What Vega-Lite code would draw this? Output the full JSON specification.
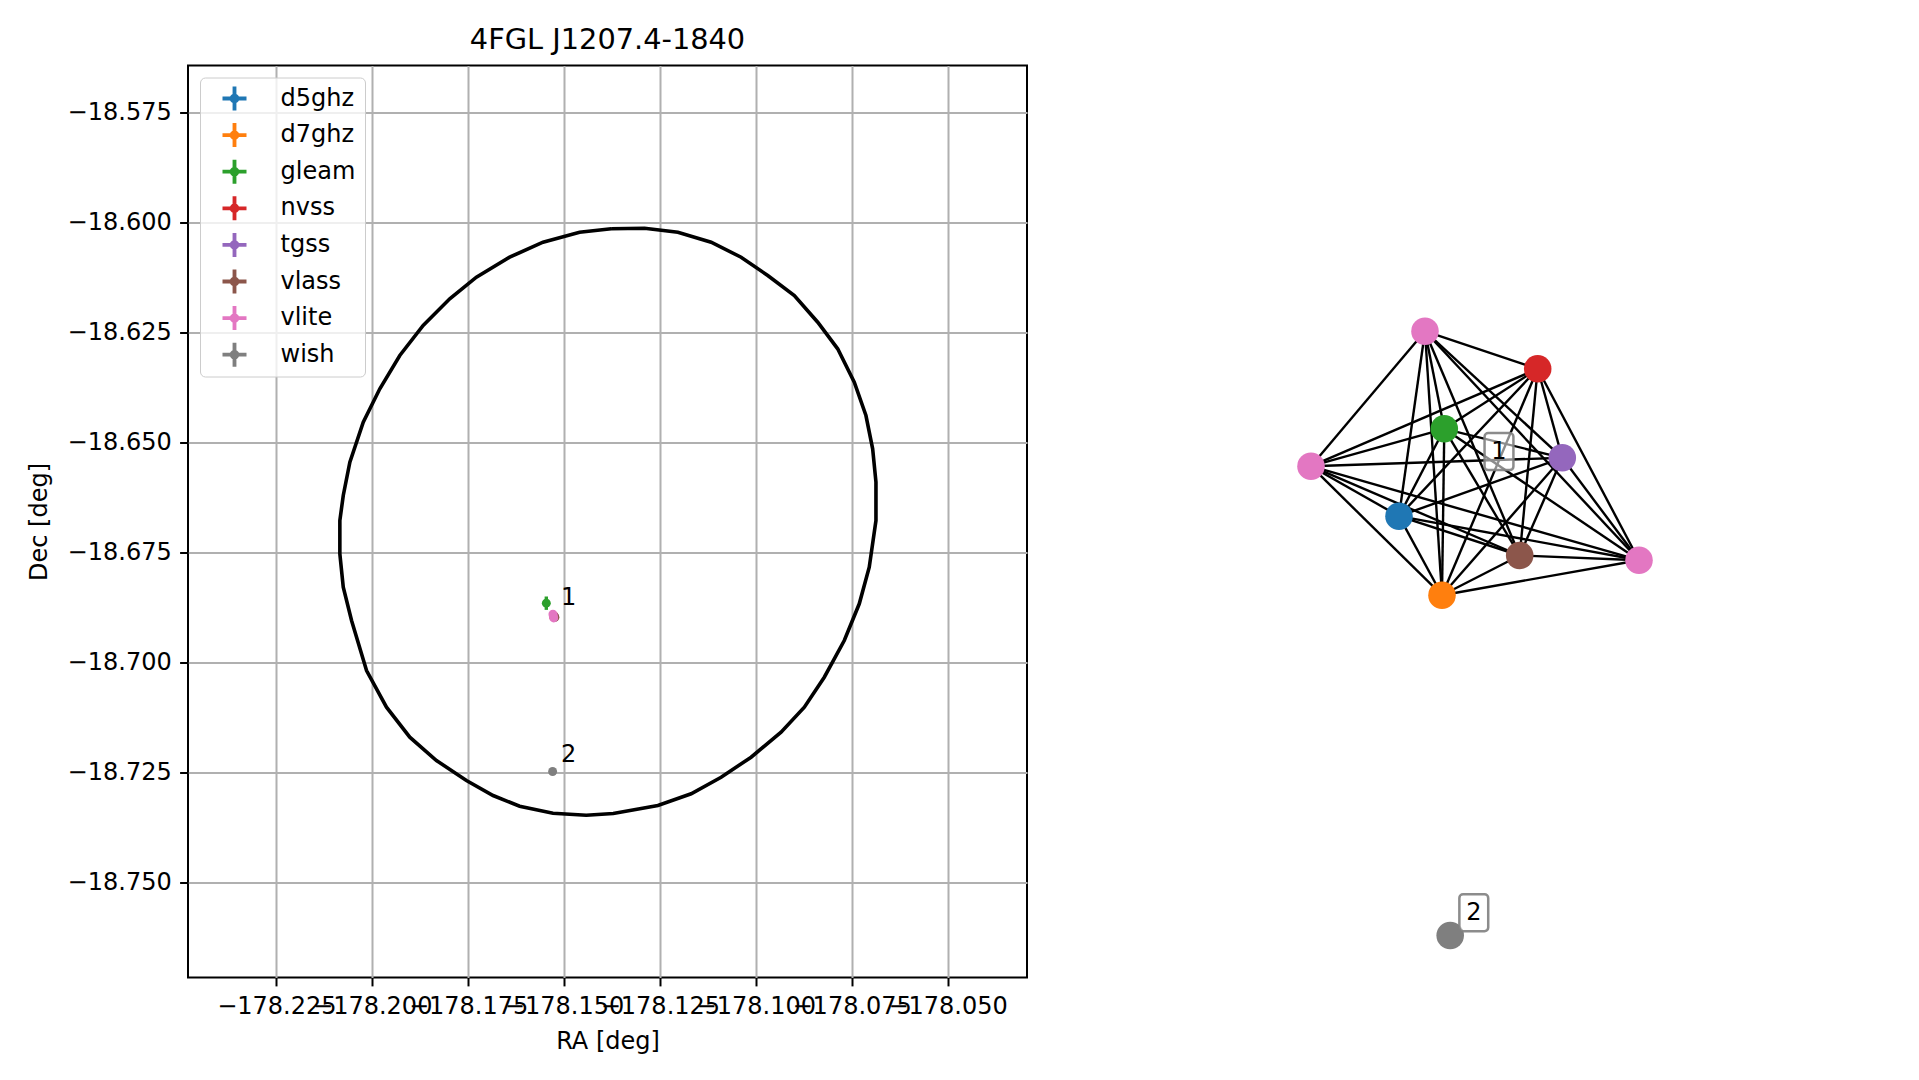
{
  "$schema": "https://vega.github.io/schema/vega-lite/v6.json",
  "background": "white",
  "padding": {"left": 26, "top": 24.5, "right": 0, "bottom": 0},
  "config": {
    "font": "DejaVu Sans",
    "axis": {
      "domain": false, "ticks": true, "tickColor": "black", "tickWidth": 2, "tickSize": 8.4,
      "labelPadding": 8.4, "labelFontSize": 24, "labelColor": "black", "labelFont": "DejaVu Sans",
      "grid": true, "gridColor": "#b0b0b0", "gridWidth": 2,
      "titleFontSize": 24, "titleFontWeight": "normal", "titleColor": "black", "titleFont": "DejaVu Sans",
      "labelOverlap": false, "labelFlush": false, "labelBound": false
    }
  },
  "datasets": {
    "ellipse": [
      {"i":1,"ra":-178.13768,"dec":-18.60136},{"i":2,"ra":-178.12901,"dec":-18.60123},{"i":3,"ra":-178.12031,"dec":-18.60214},
      {"i":4,"ra":-178.11164,"dec":-18.60441},{"i":5,"ra":-178.10383,"dec":-18.60782},{"i":6,"ra":-178.09688,"dec":-18.61198},
      {"i":7,"ra":-178.08995,"dec":-18.61652},{"i":8,"ra":-178.08385,"dec":-18.62259},{"i":9,"ra":-178.07865,"dec":-18.62864},
      {"i":10,"ra":-178.07432,"dec":-18.63623},{"i":11,"ra":-178.07128,"dec":-18.6438},{"i":12,"ra":-178.06953,"dec":-18.65136},
      {"i":13,"ra":-178.06867,"dec":-18.65895},{"i":14,"ra":-178.06867,"dec":-18.66766},{"i":15,"ra":-178.07042,"dec":-18.67827},
      {"i":16,"ra":-178.07302,"dec":-18.68659},{"i":17,"ra":-178.07693,"dec":-18.69493},{"i":18,"ra":-178.08214,"dec":-18.70327},
      {"i":19,"ra":-178.08734,"dec":-18.71009},{"i":20,"ra":-178.09341,"dec":-18.71577},{"i":21,"ra":-178.10122,"dec":-18.72145},
      {"i":22,"ra":-178.10904,"dec":-18.726},{"i":23,"ra":-178.11685,"dec":-18.72977},{"i":24,"ra":-178.12552,"dec":-18.73243},
      {"i":25,"ra":-178.13716,"dec":-18.73425},{"i":26,"ra":-178.14419,"dec":-18.73464},{"i":27,"ra":-178.15287,"dec":-18.73418},
      {"i":28,"ra":-178.16156,"dec":-18.73259},{"i":29,"ra":-178.16849,"dec":-18.73016},{"i":30,"ra":-178.17544,"dec":-18.72675},
      {"i":31,"ra":-178.18326,"dec":-18.7222},{"i":32,"ra":-178.19021,"dec":-18.71691},{"i":33,"ra":-178.19628,"dec":-18.71009},
      {"i":34,"ra":-178.20148,"dec":-18.70175},{"i":35,"ra":-178.20539,"dec":-18.69039},{"i":36,"ra":-178.20755,"dec":-18.68282},
      {"i":37,"ra":-178.20844,"dec":-18.67523},{"i":38,"ra":-178.20844,"dec":-18.66766},{"i":39,"ra":-178.20755,"dec":-18.66198},
      {"i":40,"ra":-178.20583,"dec":-18.65441},{"i":41,"ra":-178.20234,"dec":-18.64532},{"i":42,"ra":-178.19802,"dec":-18.63773},
      {"i":43,"ra":-178.19281,"dec":-18.63016},{"i":44,"ra":-178.18672,"dec":-18.62334},{"i":45,"ra":-178.17979,"dec":-18.61727},
      {"i":46,"ra":-178.17284,"dec":-18.61236},{"i":47,"ra":-178.16417,"dec":-18.60782},{"i":48,"ra":-178.15547,"dec":-18.60441},
      {"i":49,"ra":-178.14594,"dec":-18.60214},{"i":50,"ra":-178.13768,"dec":-18.60136}
    ],
    "sources": [
      {"cat":"d5ghz","ra":-178.15266,"dec":-18.68948,"ra_lo":-178.15296,"ra_hi":-178.15236,"dec_lo":-18.68988,"dec_hi":-18.68908},
      {"cat":"d7ghz","ra":-178.15271,"dec":-18.68955,"ra_lo":-178.15301,"ra_hi":-178.15241,"dec_lo":-18.68995,"dec_hi":-18.68915},
      {"cat":"gleam","ra":-178.15461,"dec":-18.68645,"ra_lo":-178.15501,"ra_hi":-178.15421,"dec_lo":-18.68797,"dec_hi":-18.68493},
      {"cat":"nvss","ra":-178.15258,"dec":-18.68936,"ra_lo":-178.15288,"ra_hi":-178.15228,"dec_lo":-18.68976,"dec_hi":-18.68896},
      {"cat":"tgss","ra":-178.15245,"dec":-18.68959,"ra_lo":-178.15275,"ra_hi":-178.15215,"dec_lo":-18.68999,"dec_hi":-18.68919},
      {"cat":"vlass","ra":-178.15237,"dec":-18.68966,"ra_lo":-178.15257,"ra_hi":-178.15217,"dec_lo":-18.68986,"dec_hi":-18.68946},
      {"cat":"vlite","ra":-178.15289,"dec":-18.68893,"ra_lo":-178.15319,"ra_hi":-178.15259,"dec_lo":-18.68933,"dec_hi":-18.68853},
      {"cat":"vlite","ra":-178.15268,"dec":-18.6898,"ra_lo":-178.15298,"ra_hi":-178.15238,"dec_lo":-18.6902,"dec_hi":-18.6894},
      {"cat":"vlite","ra":-178.15279,"dec":-18.68936,"ra_lo":-178.15309,"ra_hi":-178.15249,"dec_lo":-18.68976,"dec_hi":-18.68896},
      {"cat":"wish","ra":-178.15297,"dec":-18.7247,"ra_lo":-178.15317,"ra_hi":-178.15277,"dec_lo":-18.7249,"dec_hi":-18.7245}
    ],
    "clabels": [
      {"lab":"1","ra":-178.15289,"dec":-18.68902},
      {"lab":"2","ra":-178.15287,"dec":-18.72464}
    ],
    "nodes": [
      {"id":"a","cat":"vlite","u":-0.1667,"v":1.0043},
      {"id":"b","cat":"nvss","u":0.209,"v":0.879},
      {"id":"c","cat":"gleam","u":-0.1023,"v":0.679},
      {"id":"d","cat":"vlite","u":-0.5467,"v":0.5543},
      {"id":"e","cat":"tgss","u":0.291,"v":0.5823},
      {"id":"f","cat":"d5ghz","u":-0.2533,"v":0.3877},
      {"id":"g","cat":"vlass","u":0.149,"v":0.2567},
      {"id":"h","cat":"vlite","u":0.5467,"v":0.241},
      {"id":"i","cat":"d7ghz","u":-0.11,"v":0.1243},
      {"id":"j","cat":"wish","u":-0.0827,"v":-1.01}
    ],
    "edges": [
      {"s":"a","t":"b"},{"s":"a","t":"c"},{"s":"a","t":"d"},{"s":"a","t":"e"},{"s":"a","t":"f"},{"s":"a","t":"g"},{"s":"a","t":"h"},{"s":"a","t":"i"},
      {"s":"b","t":"c"},{"s":"b","t":"d"},{"s":"b","t":"e"},{"s":"b","t":"f"},{"s":"b","t":"g"},{"s":"b","t":"h"},{"s":"b","t":"i"},
      {"s":"c","t":"d"},{"s":"c","t":"e"},{"s":"c","t":"f"},{"s":"c","t":"g"},{"s":"c","t":"h"},{"s":"c","t":"i"},
      {"s":"d","t":"e"},{"s":"d","t":"f"},{"s":"d","t":"g"},{"s":"d","t":"h"},{"s":"d","t":"i"},
      {"s":"e","t":"f"},{"s":"e","t":"g"},{"s":"e","t":"h"},{"s":"e","t":"i"},
      {"s":"f","t":"g"},{"s":"f","t":"h"},{"s":"f","t":"i"},
      {"s":"g","t":"h"},{"s":"g","t":"i"},
      {"s":"h","t":"i"}
    ],
    "glabels": [
      {"lab":"1","u":0.08,"v":0.603},
      {"lab":"2","u":-0.004,"v":-0.934}
    ]
  },
  "spacing": 47,
  "resolve": {"scale": {"color": "independent"}, "legend": {"color": "independent"}},
  "hconcat": [
    {
      "width": 839,
      "height": 912,
      "title": {"text": "4FGL J1207.4-1840", "fontSize": 28.8, "fontWeight": "normal", "font": "DejaVu Sans", "color": "black", "baseline": "alphabetic", "offset": -12.2, "frame": "group", "anchor": "middle"},
      "view": {"stroke": "black", "strokeWidth": 2},
      "layer": [
        {
          "data": {"name": "ellipse"},
          "mark": {"type": "line", "color": "black", "strokeWidth": 3.6},
          "encoding": {
            "x": {"field": "ra", "type": "quantitative", "title": "RA [deg]",
              "scale": {"domain": [-178.24803, -178.02929], "nice": false, "zero": false},
              "axis": {"values": [-178.225,-178.2,-178.175,-178.15,-178.125,-178.1,-178.075,-178.05], "format": ".3f", "titlePadding": 11}},
            "y": {"field": "dec", "type": "quantitative", "title": "Dec [deg]",
              "scale": {"domain": [-18.77152, -18.56425], "nice": false, "zero": false},
              "axis": {"values": [-18.75,-18.725,-18.7,-18.675,-18.65,-18.625,-18.6,-18.575], "format": ".3f", "titlePadding": 16}},
            "order": {"field": "i", "type": "quantitative"}
          }
        },
        {
          "data": {"name": "sources"},
          "mark": {"type": "rule", "strokeWidth": 3.4},
          "encoding": {
            "x": {"field": "ra_lo", "type": "quantitative", "title": "RA [deg]"},
            "x2": {"field": "ra_hi"},
            "y": {"field": "dec", "type": "quantitative", "title": "Dec [deg]"},
            "color": {"field": "cat", "type": "nominal"}
          }
        },
        {
          "data": {"name": "sources"},
          "mark": {"type": "rule", "strokeWidth": 3.4},
          "encoding": {
            "x": {"field": "ra", "type": "quantitative", "title": "RA [deg]"},
            "y": {"field": "dec_lo", "type": "quantitative", "title": "Dec [deg]"},
            "y2": {"field": "dec_hi"},
            "color": {"field": "cat", "type": "nominal"}
          }
        },
        {
          "data": {"name": "sources"},
          "mark": {"type": "point", "filled": true, "opacity": 1, "size": 80, "shape": "circle"},
          "encoding": {
            "x": {"field": "ra", "type": "quantitative", "title": "RA [deg]"},
            "y": {"field": "dec", "type": "quantitative", "title": "Dec [deg]"},
            "color": {"field": "cat", "type": "nominal",
              "scale": {"domain": ["d5ghz","d7ghz","gleam","nvss","tgss","vlass","vlite","wish"],
                        "range": ["#1f77b4","#ff7f0e","#2ca02c","#d62728","#9467bd","#8c564b","#e377c2","#7f7f7f"]},
              "legend": {
                "orient": "top-left", "offset": 12, "title": null, "direction": "vertical",
                "symbolType": "M-1,-0.16H-0.16V-1H0.16V-0.16H1V0.16H0.16V1H-0.16V0.16H-1Z M0.4,0L0.35,0.2L0.2,0.35L0,0.4L-0.2,0.35L-0.35,0.2L-0.4,0L-0.35,-0.2L-0.2,-0.35L0,-0.4L0.2,-0.35L0.35,-0.2Z",
                "symbolSize": 576, "symbolStrokeWidth": 0, "symbolOpacity": 1,
                "labelFontSize": 24, "labelFont": "DejaVu Sans", "labelColor": "black", "labelLimit": 0,
                "padding": 9, "rowPadding": 12.6, "symbolOffset": 13.5, "labelOffset": 34,
                "fillColor": "rgba(255,255,255,0.8)", "strokeColor": "#cccccc", "cornerRadius": 5
              }
            }
          }
        },
        {
          "data": {"name": "clabels"},
          "mark": {"type": "text", "fontSize": 24, "font": "DejaVu Sans", "color": "black", "align": "left", "baseline": "alphabetic", "dx": 8, "dy": -9},
          "encoding": {
            "x": {"field": "ra", "type": "quantitative", "title": "RA [deg]"},
            "y": {"field": "dec", "type": "quantitative", "title": "Dec [deg]"},
            "text": {"field": "lab", "type": "nominal"}
          }
        }
      ]
    },
    {
      "width": 600,
      "height": 912,
      "view": {"stroke": null},
      "layer": [
        {
          "data": {"name": "edges"},
          "transform": [
            {"lookup": "s", "from": {"data": {"name": "nodes"}, "key": "id", "fields": ["u", "v"]}, "as": ["su", "sv"]},
            {"lookup": "t", "from": {"data": {"name": "nodes"}, "key": "id", "fields": ["u", "v"]}, "as": ["tu", "tv"]}
          ],
          "mark": {"type": "rule", "color": "black", "strokeWidth": 2.4},
          "encoding": {
            "x": {"field": "su", "type": "quantitative", "scale": {"domain": [-1.3333, 0.6667], "nice": false, "zero": false}, "axis": null},
            "y": {"field": "sv", "type": "quantitative", "scale": {"domain": [-1.15, 1.89], "nice": false, "zero": false}, "axis": null},
            "x2": {"field": "tu"},
            "y2": {"field": "tv"}
          }
        },
        {
          "data": {"name": "nodes"},
          "mark": {"type": "point", "filled": true, "opacity": 1, "size": 760, "shape": "circle"},
          "encoding": {
            "x": {"field": "u", "type": "quantitative", "axis": null},
            "y": {"field": "v", "type": "quantitative", "axis": null},
            "color": {"field": "cat", "type": "nominal",
              "scale": {"domain": ["d5ghz","d7ghz","gleam","nvss","tgss","vlass","vlite","wish"],
                        "range": ["#1f77b4","#ff7f0e","#2ca02c","#d62728","#9467bd","#8c564b","#e377c2","#7f7f7f"]},
              "legend": null}
          }
        },
        {
          "data": {"name": "glabels"},
          "mark": {"type": "point", "filled": false, "size": 1369,
            "shape": "M-0.58,-1H0.58A0.2,0.2 0 0 1 0.78,-0.8V0.8A0.2,0.2 0 0 1 0.58,1H-0.58A0.2,0.2 0 0 1 -0.78,0.8V-0.8A0.2,0.2 0 0 1 -0.58,-1Z",
            "fill": "white", "fillOpacity": 0.55, "stroke": "#808080", "strokeWidth": 2.5, "strokeOpacity": 0.9, "opacity": 1},
          "encoding": {
            "x": {"field": "u", "type": "quantitative", "axis": null},
            "y": {"field": "v", "type": "quantitative", "axis": null}
          }
        },
        {
          "data": {"name": "glabels"},
          "mark": {"type": "text", "fontSize": 24, "font": "DejaVu Sans", "color": "black", "align": "center", "baseline": "middle"},
          "encoding": {
            "x": {"field": "u", "type": "quantitative", "axis": null},
            "y": {"field": "v", "type": "quantitative", "axis": null},
            "text": {"field": "lab", "type": "nominal"}
          }
        }
      ]
    }
  ]
}
